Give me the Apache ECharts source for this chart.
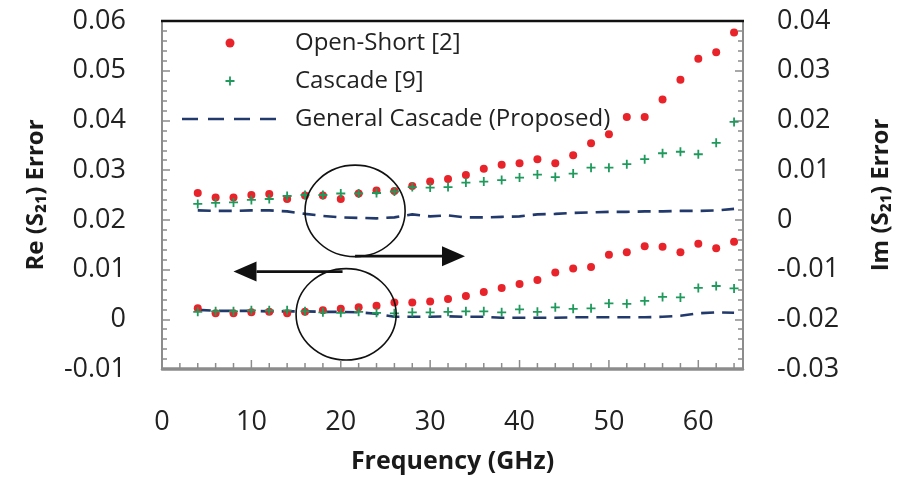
<!DOCTYPE html>
<html>
<head>
<meta charset="utf-8">
<script src="https://cdn.jsdelivr.net/npm/echarts@6/dist/echarts.min.js"></script>
<style>
  html, body { margin: 0; padding: 0; background: #fff; }
  #chart { width: 912px; height: 479px; }
</style>
</head>
<body>
<div id="chart"></div>
<script>
// frequency points (GHz)
const freq = [4, 6, 8, 10, 12, 14, 16, 18, 20, 22, 24, 26, 28, 30, 32, 34, 36, 38, 40, 42, 44, 46, 48, 50, 52, 54, 56, 58, 60, 62, 64]

// Re(S21) error, left axis (lower group)
const reOpenShort = [0.0022, 0.0012, 0.0012, 0.0014, 0.0015, 0.0012, 0.0015, 0.0018, 0.0021, 0.0024, 0.0027, 0.0034, 0.0034, 0.0036, 0.0041, 0.0047, 0.0055, 0.0063, 0.0071, 0.0079, 0.0094, 0.0102, 0.0105, 0.0130, 0.0135, 0.0147, 0.0146, 0.0135, 0.0152, 0.0143, 0.0156]
const reCascade = [0.0015, 0.0016, 0.0016, 0.0018, 0.0018, 0.0018, 0.0016, 0.0014, 0.0013, 0.0015, 0.0013, 0.0012, 0.0014, 0.0014, 0.0015, 0.0016, 0.0016, 0.0014, 0.0020, 0.0015, 0.0024, 0.0021, 0.0022, 0.0032, 0.0031, 0.0037, 0.0045, 0.0044, 0.0063, 0.0067, 0.0062]
const reGeneral = [0.0019, 0.0017, 0.0017, 0.0017, 0.0016, 0.0016, 0.0016, 0.0015, 0.0015, 0.0014, 0.0011, 0.0005, 0.0005, 0.0005, 0.0006, 0.0005, 0.0005, 0.0003, 0.0003, 0.0003, 0.0003, 0.0004, 0.0004, 0.0004, 0.0004, 0.0004, 0.0005, 0.0007, 0.0012, 0.0014, 0.0013]

// Im(S21) error, right axis (upper group)
const imOpenShort = [0.0054, 0.0045, 0.0045, 0.0050, 0.0052, 0.0042, 0.0049, 0.0049, 0.0042, 0.0053, 0.0059, 0.0058, 0.0068, 0.0077, 0.0082, 0.0090, 0.0103, 0.0111, 0.0114, 0.0122, 0.0114, 0.0130, 0.0154, 0.0172, 0.0207, 0.0207, 0.0242, 0.0282, 0.0324, 0.0337, 0.0377]
const imCascade = [0.0032, 0.0034, 0.0035, 0.0040, 0.0042, 0.0048, 0.0050, 0.0050, 0.0053, 0.0053, 0.0054, 0.0057, 0.0066, 0.0065, 0.0066, 0.0075, 0.0077, 0.0080, 0.0085, 0.0091, 0.0086, 0.0093, 0.0105, 0.0105, 0.0112, 0.0122, 0.0134, 0.0137, 0.0132, 0.0155, 0.0197]
const imGeneral = [0.0019, 0.0018, 0.0018, 0.0019, 0.0019, 0.0017, 0.0012, 0.0008, 0.0005, 0.0004, 0.0003, 0.0005, 0.0011, 0.0007, 0.0009, 0.0005, 0.0005, 0.0006, 0.0007, 0.0011, 0.0012, 0.0014, 0.0015, 0.0016, 0.0016, 0.0017, 0.0017, 0.0018, 0.0018, 0.0019, 0.0022]

const names = ['Open-Short [2]', 'Cascade [9]', 'General Cascade (Proposed)']

const FONT = 'Open Sans'
const RED = '#e8232a'
const GREEN = '#1f9a5c'
const NAVY = '#22396b'
const AXIS = '#8c8c8c'
const PLUS = 'path://M4,0H6V4H10V6H6V10H4V6H0V4H4Z'
// four dashes in a 100x9 box, with tiny corner points to keep the box
const DASH_ICON = 'path://M0,0h0.01v0.01h-0.01z M99.99,8.99h0.01v0.01h-0.01z' +
  'M2,3.2h16v2.6h-16z M28,3.2h16v2.6h-16z M54,3.2h16v2.6h-16z M80,3.2h16v2.6h-16z'

const pairs = ys => freq.map((f, i) => [f, ys[i]])
const fmt = v => String(Math.round(v * 100) / 100)

function scatter (name, data, yAxisIndex, symbol, color, size) {
  return {
    name, type: 'scatter', yAxisIndex, symbol, symbolSize: size,
    itemStyle: { color, opacity: 1 }, data: pairs(data), z: 3
  }
}
function dashed (name, data, yAxisIndex) {
  return {
    name, type: 'line', yAxisIndex, symbol: 'none', showSymbol: false,
    lineStyle: { color: NAVY, width: 2.6, type: [13, 8] },
    itemStyle: { color: NAVY }, data: pairs(data), z: 2
  }
}

const tick = () => ({ show: true, inside: true, length: 8, lineStyle: { color: AXIS, width: 1.5 } })
const minor = () => ({ show: true, splitNumber: 5, length: 5, lineStyle: { color: AXIS, width: 1.5 } })

function yAxis (position, min, max, nameText) {
  return {
    type: 'value', position, min, max, interval: 0.01,
    name: nameText, nameLocation: 'middle', nameRotate: 90,
    nameGap: position === 'left' ? 114 : 126,
    nameTextStyle: { fontFamily: FONT, fontSize: 24, fontWeight: 'bold', color: '#1a1a1a' },
    axisLine: { show: true, onZero: false, lineStyle: { color: AXIS, width: 2 } },
    axisTick: tick(),
    minorTick: minor(),
    axisLabel: {
      fontFamily: FONT, fontSize: 27, color: '#222', margin: position === 'left' ? 36 : 34,
      formatter: fmt
    },
    splitLine: { show: false }
  }
}

const chart = echarts.init(document.getElementById('chart'))

const option = {
  backgroundColor: '#fff',
  animation: false,
  grid: { left: 162, right: 169, top: 21, bottom: 108, containLabel: false },
  legend: {
    orient: 'vertical', left: 175, top: 26,
    itemWidth: 100, itemHeight: 9, itemGap: 14,
    data: [names[0], names[1], { name: names[2], icon: DASH_ICON }],
    textStyle: { fontFamily: FONT, fontSize: 24, color: '#222', lineHeight: 24, padding: [0, 0, 0, 10] }
  },
  xAxis: {
    type: 'value', min: 0, max: 65, interval: 10, z: 10,
    name: 'Frequency (GHz)', nameLocation: 'middle', nameGap: 80,
    nameTextStyle: { fontFamily: FONT, fontSize: 25, fontWeight: 'bold', color: '#1a1a1a' },
    axisLine: { show: true, onZero: false, lineStyle: { color: AXIS, width: 2.5 } },
    axisTick: { show: false },
    axisLabel: {
      fontFamily: FONT, fontSize: 27, color: '#222', margin: 40,
      formatter: v => (v % 10 === 0 ? String(v) : '')
    },
    splitLine: { show: false }
  },
  yAxis: [
    yAxis('left', -0.01, 0.06, 'Re (S₂₁) Error'),
    yAxis('right', -0.03, 0.04, 'Im (S₂₁) Error')
  ],
  series: [
    scatter(names[0], reOpenShort, 0, 'circle', RED, 8),
    scatter(names[1], reCascade, 0, PLUS, GREEN, 9),
    dashed(names[2], reGeneral, 0),
    scatter(names[0], imOpenShort, 1, 'circle', RED, 8),
    scatter(names[1], imCascade, 1, PLUS, GREEN, 9),
    dashed(names[2], imGeneral, 1)
  ]
}
chart.setOption(option)

// frame lines, x ticks, circles and arrows placed from data positions
const px = (x, y) => chart.convertToPixel({ xAxisIndex: 0, yAxisIndex: 0 }, [x, y])

function ellipse (cx, cy, rxGHz, ryVal) {
  const c = px(cx, cy)
  const e = px(cx + rxGHz, cy + ryVal)
  return {
    type: 'ellipse', z: 10,
    shape: { cx: c[0], cy: c[1], rx: Math.abs(e[0] - c[0]), ry: Math.abs(c[1] - e[1]) },
    style: { fill: 'none', stroke: '#111', lineWidth: 1.6 }
  }
}
function arrow (x0, x1, y) {
  const a = px(x0, y)
  const b = px(x1, y)
  const dir = b[0] > a[0] ? 1 : -1
  const headLen = 23
  const half = 10
  const base = b[0] - dir * headLen
  return [{
    type: 'line', z: 10,
    shape: { x1: a[0], y1: a[1], x2: base, y2: a[1] },
    style: { stroke: '#111', lineWidth: 2.7 }
  }, {
    type: 'polygon', z: 10,
    shape: { points: [[b[0], b[1]], [base, b[1] - half], [base, b[1] + half]] },
    style: { fill: '#111' }
  }]
}
const tl = px(0, 0.06)
const tr = px(65, 0.06)
const bl = px(0, -0.01)
const br = px(65, -0.01)

const xTicks = []
for (let g = 2; g < 65; g += 2) {
  const p = px(g, -0.01)
  const len = g % 10 === 0 ? 8 : 5
  xTicks.push({
    type: 'line', z: 11,
    shape: { x1: p[0], y1: p[1] - 1, x2: p[0], y2: p[1] - 1 - len },
    style: { stroke: AXIS, lineWidth: 1.5 }
  })
}

chart.setOption({
  graphic: [
    { type: 'line', z: 11, shape: { x1: tl[0] - 1, y1: tl[1], x2: tr[0] + 1, y2: tr[1] }, style: { stroke: '#111', lineWidth: 2.5 } },
    { type: 'line', z: 11, shape: { x1: bl[0] - 1, y1: bl[1] - 0.5, x2: br[0] + 1, y2: br[1] - 0.5 }, style: { stroke: AXIS, lineWidth: 2.5 } },
    ...xTicks,
    ellipse(21.6, 0.0218, 5.6, 0.0092),
    ellipse(20.6, 0.0010, 5.6, 0.0092),
    ...arrow(21.6, 33.9, 0.0127),
    ...arrow(20.2, 8.0, 0.0096)
  ]
})
</script>
</body>
</html>
